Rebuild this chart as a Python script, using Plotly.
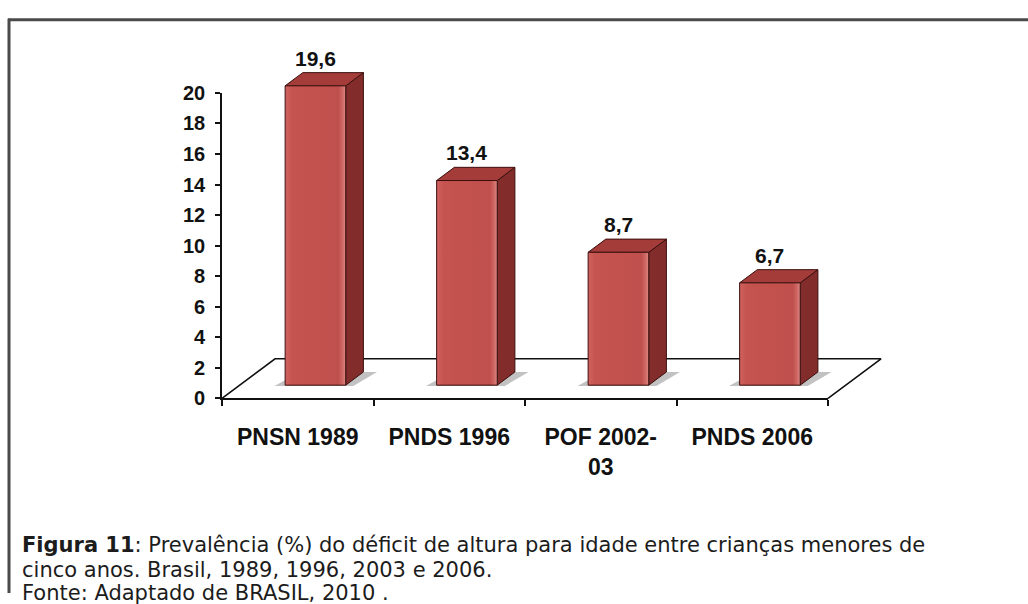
import plotly.graph_objects as go

# Survey data: stunting prevalence (%) among children under five
categories = ["PNSN 1989", "PNDS 1996", "POF 2002-<br>03", "PNDS 2006"]
values = [19.6, 13.4, 8.7, 6.7]
value_labels = ["19,6", "13,4", "8,7", "6,7"]
y_ticks = list(range(0, 21, 2))

# Pseudo-3D geometry in data units (x: category units, y: percent units)
DEPTH_X = 0.35      # floor depth, horizontal component
DEPTH_Y = 2.59      # floor depth, vertical component
BAR_W = 0.40        # width of a bar's front face

SIDE = "#822d2b"
TOP = "#a43c39"
EDGE = "#3b0f0e"

W, H = 1028, 604
# pixel placement of the value axis (front plane)
X_LEFT_PX, X_RIGHT_PX = 222, 828
Y_ZERO_PX, Y_TOP_PX = 402, 85
px_per_cat = (X_RIGHT_PX - X_LEFT_PX) / len(categories)
px_per_unit = (Y_ZERO_PX - Y_TOP_PX) / 20.0

x_min = -0.5 - X_LEFT_PX / px_per_cat
x_max = len(categories) - 0.5 + (W - X_RIGHT_PX) / px_per_cat
y_max = Y_ZERO_PX / px_per_unit
y_min = -(H - Y_ZERO_PX) / px_per_unit

fig = go.Figure()


def poly(xs, ys, fill, line_color=EDGE, width=1, opacity=1.0):
    fig.add_trace(go.Scatter(
        x=list(xs) + [xs[0]], y=list(ys) + [ys[0]], mode="lines",
        fill="toself", fillcolor=fill, opacity=opacity,
        line=dict(color=line_color, width=width),
        hoverinfo="skip", showlegend=False, xaxis="x", yaxis="y"))


# floor outline (back part; the front edge is the category axis line)
n = len(categories)
fig.add_trace(go.Scatter(
    x=[-0.5, -0.5 + DEPTH_X, n - 0.5 + DEPTH_X, n - 0.5],
    y=[0, DEPTH_Y, DEPTH_Y, 0], mode="lines",
    line=dict(color="#111111", width=1.6),
    hoverinfo="skip", showlegend=False, xaxis="x", yaxis="y"))

dx, dy = DEPTH_X / 3, DEPTH_Y / 3
for i, v in enumerate(values):
    cx = i + dx
    xl, xr = cx - BAR_W / 2, cx + BAR_W / 2
    y0 = dy
    yt = y0 + v
    # soft shadow on the floor
    poly([xl - 0.07, xr + 0.05, xr + dx + 0.09, xl + dx - 0.02],
         [y0 - 0.05, y0 - 0.05, y0 + dy, y0 + dy],
         "rgba(120,120,120,0.45)", line_color="rgba(0,0,0,0)", width=0)
    # side face
    poly([xr, xr + dx, xr + dx, xr], [y0, y0 + dy, yt + dy, yt], SIDE)
    # top face
    poly([xl, xr, xr + dx, xl + dx], [yt, yt, yt + dy, yt + dy], TOP)
    # front face
    fig.add_trace(go.Scatter(
        x=[xl, xr, xr, xl, xl], y=[y0, y0, yt, yt, y0], mode="lines",
        fill="toself",
        fillgradient=dict(type="horizontal", colorscale=[
            [0.0, "#d0625f"], [0.12, "#c5534f"], [0.88, "#c0504d"],
            [0.95, "#cf6a66"], [1.0, "#e08a86"]]),
        line=dict(color=EDGE, width=1),
        hoverinfo="skip", showlegend=False, xaxis="x", yaxis="y"))
    # value label above the bar
    fig.add_annotation(
        x=cx, y=yt + dy, xref="x", yref="y", text=value_labels[i],
        showarrow=False, yanchor="bottom", yshift=1,
        font=dict(family="Liberation Sans, Arial", size=21, color="#111111",
                  weight="bold"))

# empty trace so the visible axes are drawn
fig.add_trace(go.Scatter(x=[None], y=[None], xaxis="x2", yaxis="y2",
                         showlegend=False, hoverinfo="skip"))

caption_font = dict(family="DejaVu Sans", size=21, color="#1c1c1c")
captions = [
    "<b>Figura 11</b>: Prevalência (%) do déficit de altura para idade entre crianças menores de",
    "cinco anos. Brasil, 1989, 1996, 2003 e 2006.",
    "Fonte: Adaptado de BRASIL, 2010 .",
]
caption_y_px = [554, 580, 604]
for txt, ypx in zip(captions, caption_y_px):
    fig.add_annotation(x=20 / W, y=1 - ypx / H, xref="paper", yref="paper",
                       text=txt, showarrow=False, xanchor="left",
                       yanchor="middle", font=caption_font)

# frame around the figure
fig.add_shape(type="line", xref="paper", yref="paper",
              x0=8 / W, x1=1, y0=1 - 9 / H, y1=1 - 9 / H,
              line=dict(color="#4a4a4a", width=3))
fig.add_shape(type="line", xref="paper", yref="paper",
              x0=9 / W, x1=9 / W, y0=0, y1=1 - 8 / H,
              line=dict(color="#4a4a4a", width=3))

axis_font = dict(family="Liberation Sans, Arial", size=23, color="#111111",
                 weight="bold")
fig.update_layout(
    width=W, height=H,
    margin=dict(l=0, r=0, t=0, b=0),
    paper_bgcolor="white", plot_bgcolor="rgba(0,0,0,0)",
    showlegend=False,
    xaxis=dict(domain=[0, 1], range=[x_min, x_max], visible=False,
               fixedrange=True),
    yaxis=dict(domain=[0, 1], range=[y_min, y_max], visible=False,
               fixedrange=True),
    xaxis2=dict(domain=[X_LEFT_PX / W, X_RIGHT_PX / W], range=[-0.5, n - 0.5],
                anchor="y2", showline=True, linecolor="#111111", linewidth=1.6,
                showgrid=False, zeroline=False,
                tickmode="array", tickvals=list(range(n)), ticktext=categories,
                ticks="", tickfont=axis_font, ticklabelstandoff=17,
                minor=dict(tickmode="array",
                           tickvals=[k - 0.5 for k in range(n + 1)],
                           ticks="outside", ticklen=6, tickwidth=1.5,
                           tickcolor="#111111", showgrid=False),
                fixedrange=True),
    yaxis2=dict(domain=[(H - Y_ZERO_PX) / H, (H - Y_TOP_PX) / H],
                range=[0, 20], anchor="x2", showline=True,
                linecolor="#111111", linewidth=1.6, showgrid=False,
                zeroline=False, tickmode="array", tickvals=y_ticks,
                ticks="outside", ticklen=5, tickwidth=1.5, tickcolor="#111111",
                tickfont=dict(family="Liberation Sans, Arial", size=20,
                              color="#111111", weight="bold"),
                ticklabelstandoff=6, fixedrange=True),
)

fig.write_html("out.html")
